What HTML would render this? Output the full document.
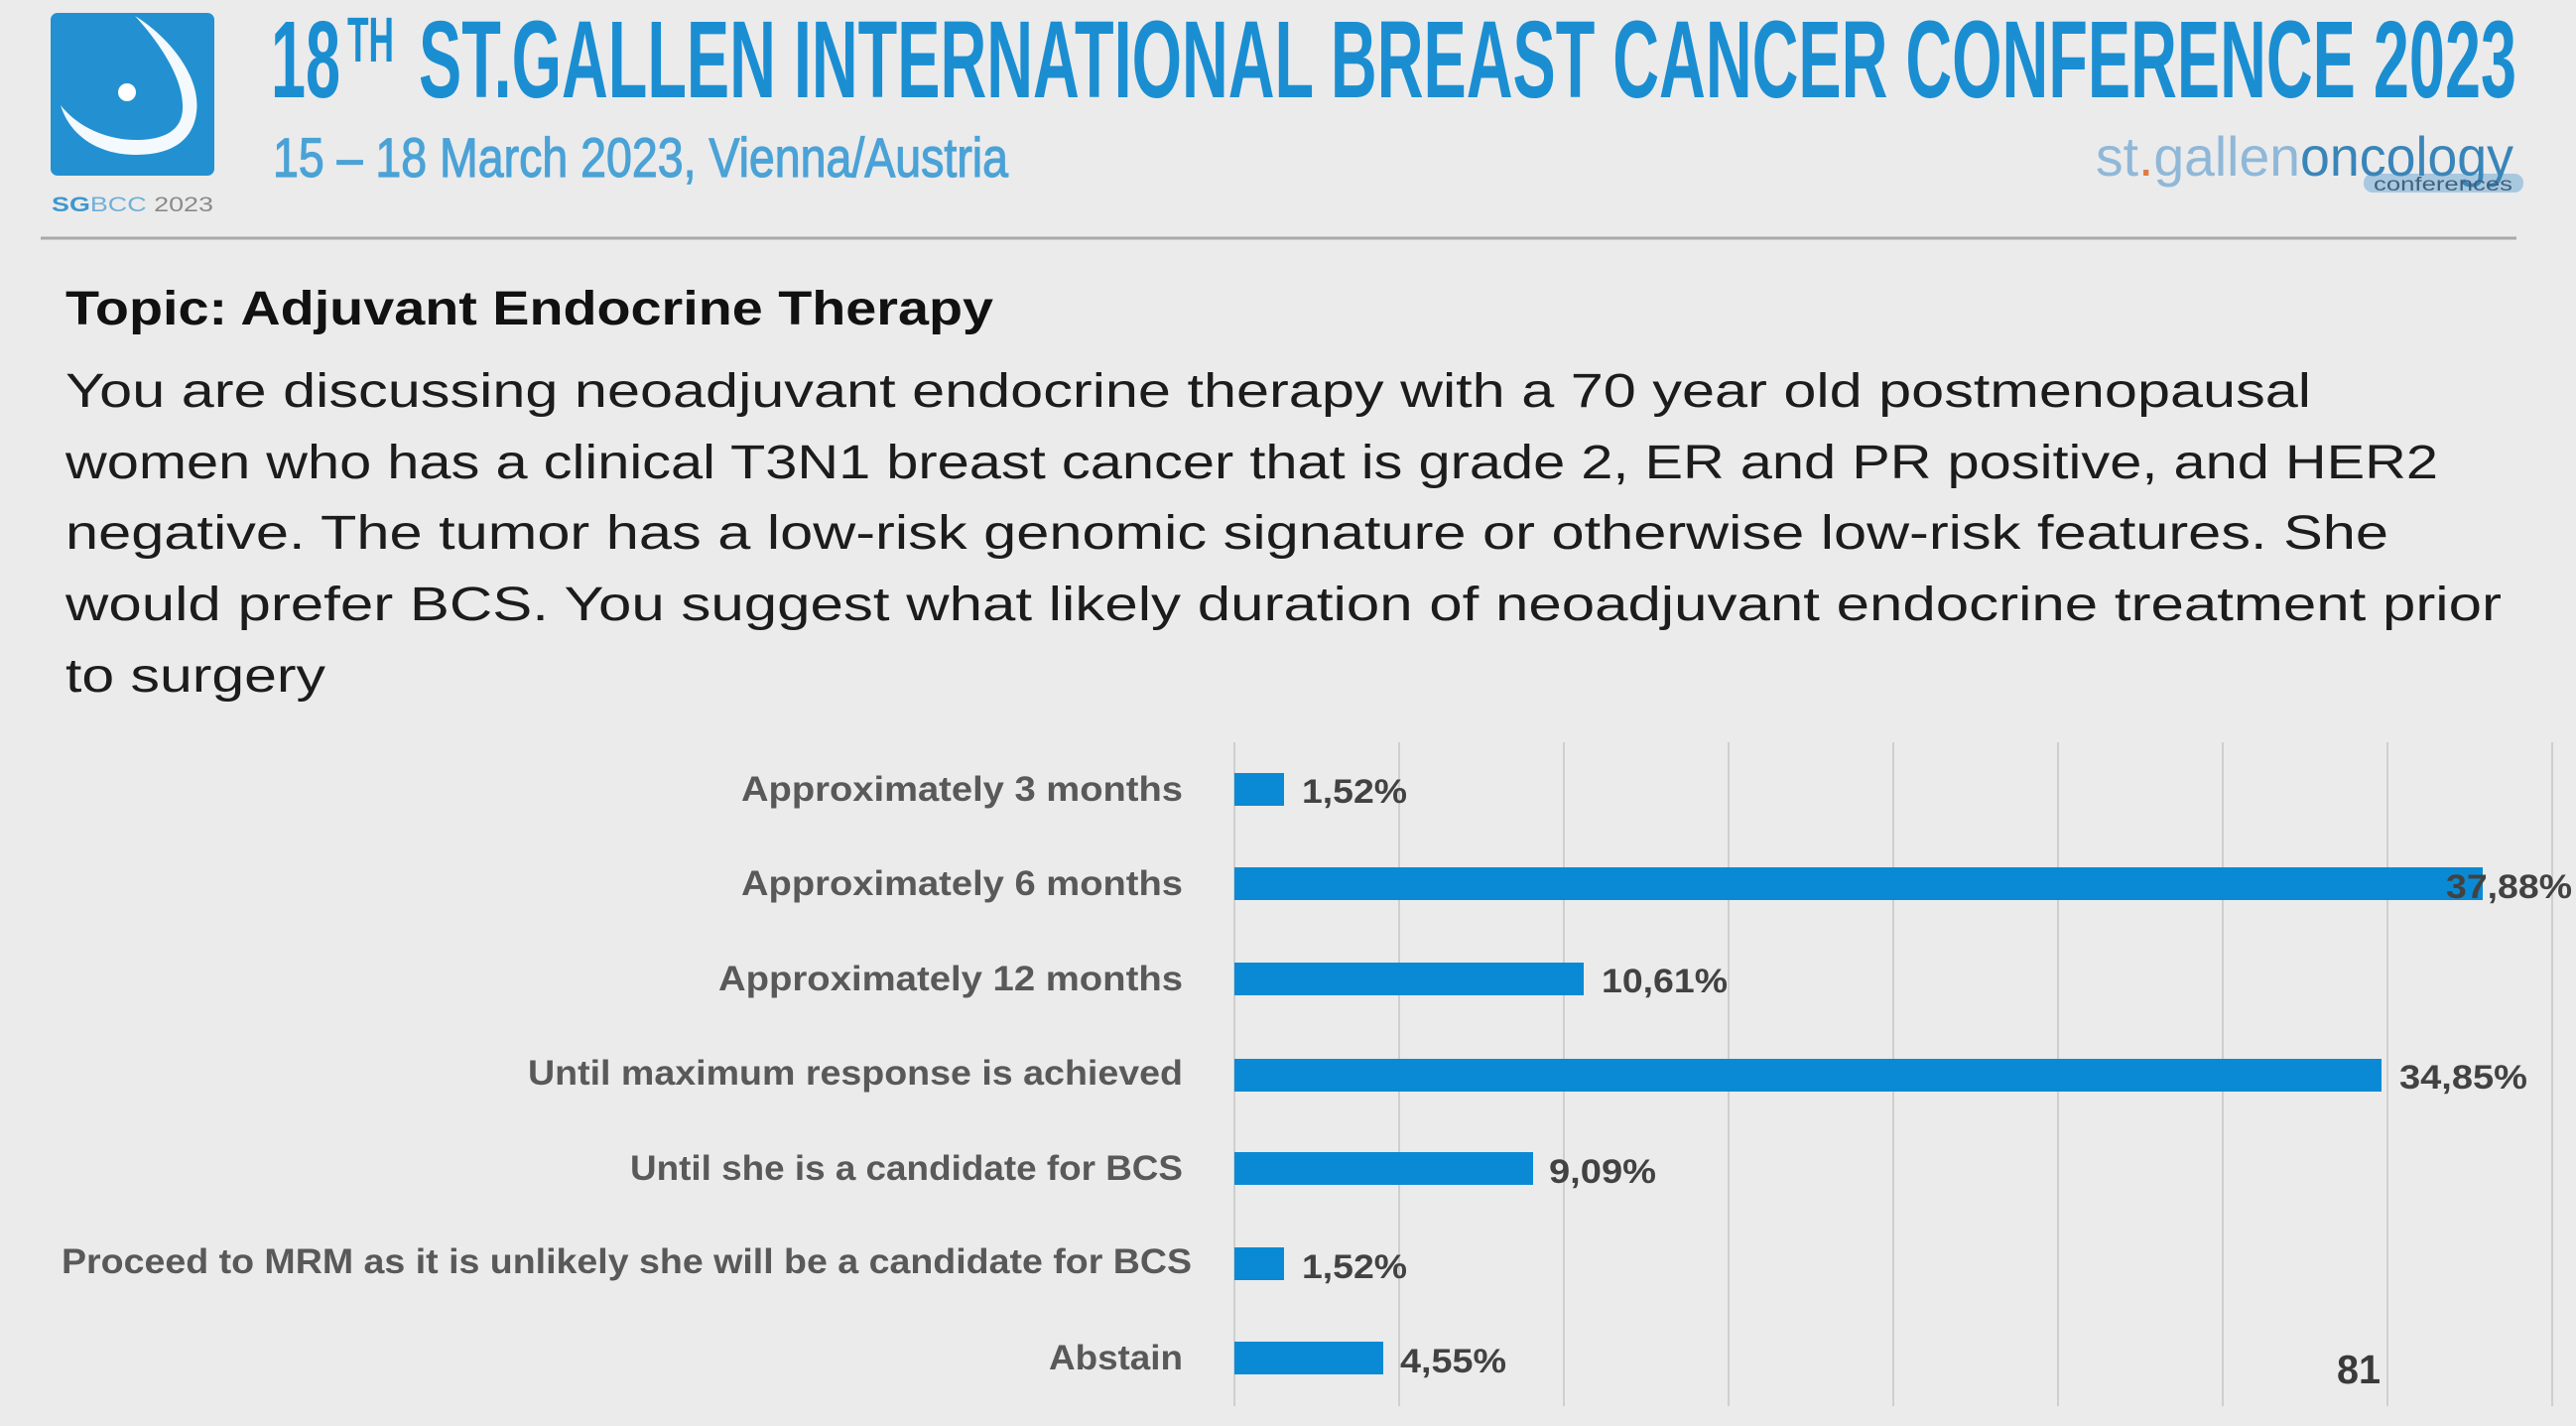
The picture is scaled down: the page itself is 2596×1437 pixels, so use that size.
<!DOCTYPE html>
<html>
<head>
<meta charset="utf-8">
<style>
html,body{margin:0;padding:0;background:#ebebeb;}
svg{display:block;}
text{font-family:"Liberation Sans",Arial,sans-serif;}
</style>
</head>
<body>
<svg width="2596" height="1437" viewBox="0 0 2596 1437" xmlns="http://www.w3.org/2000/svg">
<rect x="0" y="0" width="2596" height="1437" fill="#ebebeb"/>

<!-- Logo -->
<rect x="51" y="13" width="165" height="164" rx="7" fill="#2391d1"/>
<path d="M136,16 C167,35 203,75 198,113 C194,147 165,156 137,156 C104,156 72,141 61,106 C80,130 110,141 137,141 C163,141 183,133 184,110 C186,80 160,42 136,16 Z" fill="#ffffff" opacity="0.95"/>
<circle cx="128" cy="93" r="9" fill="#ffffff"/>
<text x="52" y="213" font-size="21" textLength="163" lengthAdjust="spacingAndGlyphs"><tspan font-weight="bold" fill="#3d97cf">SG</tspan><tspan fill="#6fb0da">BCC</tspan><tspan fill="#8a8a8a"> 2023</tspan></text>

<!-- Header title -->
<text x="273" y="98" font-size="110" font-weight="bold" fill="#1b8ed2" textLength="70" lengthAdjust="spacingAndGlyphs">18</text>
<text x="350" y="62" font-size="64" font-weight="bold" fill="#1b8ed2" textLength="47" lengthAdjust="spacingAndGlyphs">TH</text>
<text x="422" y="98" font-size="110" font-weight="bold" fill="#1b8ed2" textLength="2114" lengthAdjust="spacingAndGlyphs">ST.GALLEN INTERNATIONAL BREAST CANCER CONFERENCE 2023</text>
<text x="275" y="178" font-size="56" fill="#4aa2d6" stroke="#4aa2d6" stroke-width="1.2" textLength="741" lengthAdjust="spacingAndGlyphs">15 – 18 March 2023, Vienna/Austria</text>

<!-- st.gallen oncology logo -->
<rect x="2382" y="175" width="161" height="19" rx="9" fill="#a8c8e0"/>
<text x="2112" y="177" font-size="56" fill="#8fb8d8" textLength="206" lengthAdjust="spacingAndGlyphs">st<tspan fill="#e07a40">.</tspan>gallen</text>
<text x="2318" y="177" font-size="56" fill="#3a85b8" textLength="215" lengthAdjust="spacingAndGlyphs">oncology</text>
<text x="2392" y="192" font-size="19" fill="#40607e" textLength="140" lengthAdjust="spacingAndGlyphs">conferences</text>

<!-- Separator -->
<line x1="41" y1="240" x2="2536" y2="240" stroke="#a9a9a9" stroke-width="3"/>

<!-- Topic -->
<text x="66" y="327" font-size="48" font-weight="bold" fill="#111111" textLength="935" lengthAdjust="spacingAndGlyphs">Topic: Adjuvant Endocrine Therapy</text>
<g font-size="48" fill="#1c1c1c">
<text x="66" y="410" textLength="2263" lengthAdjust="spacingAndGlyphs">You are discussing neoadjuvant endocrine therapy with a 70 year old postmenopausal</text>
<text x="66" y="482" textLength="2391" lengthAdjust="spacingAndGlyphs">women who has a clinical T3N1 breast cancer that is grade 2, ER and PR positive, and HER2</text>
<text x="66" y="553" textLength="2341" lengthAdjust="spacingAndGlyphs">negative. The tumor has a low-risk genomic signature or otherwise low-risk features. She</text>
<text x="66" y="625" textLength="2455" lengthAdjust="spacingAndGlyphs">would prefer BCS. You suggest what likely duration of neoadjuvant endocrine treatment prior</text>
<text x="66" y="697" textLength="262" lengthAdjust="spacingAndGlyphs">to surgery</text>
</g>

<!-- Gridlines -->
<g stroke="#cfcfcf" stroke-width="2">
<line x1="1244" y1="748" x2="1244" y2="1417"/>
<line x1="1410" y1="748" x2="1410" y2="1417"/>
<line x1="1576" y1="748" x2="1576" y2="1417"/>
<line x1="1742" y1="748" x2="1742" y2="1417"/>
<line x1="1908" y1="748" x2="1908" y2="1417"/>
<line x1="2074" y1="748" x2="2074" y2="1417"/>
<line x1="2240" y1="748" x2="2240" y2="1417"/>
<line x1="2406" y1="748" x2="2406" y2="1417"/>
<line x1="2572" y1="748" x2="2572" y2="1417"/>
</g>

<!-- Bars -->
<g fill="#0a8ad4">
<rect x="1244" y="779" width="50" height="33"/>
<rect x="1244" y="874" width="1258" height="33"/>
<rect x="1244" y="970" width="352" height="33"/>
<rect x="1244" y="1067" width="1156" height="33"/>
<rect x="1244" y="1161" width="301" height="33"/>
<rect x="1244" y="1257" width="50" height="33"/>
<rect x="1244" y="1352" width="150" height="33"/>
</g>

<!-- Category labels -->
<g font-size="35" font-weight="bold" fill="#595959">
<text x="747" y="807" textLength="445" lengthAdjust="spacingAndGlyphs">Approximately 3 months</text>
<text x="747" y="902" textLength="445" lengthAdjust="spacingAndGlyphs">Approximately 6 months</text>
<text x="724" y="998" textLength="468" lengthAdjust="spacingAndGlyphs">Approximately 12 months</text>
<text x="532" y="1093" textLength="660" lengthAdjust="spacingAndGlyphs">Until maximum response is achieved</text>
<text x="635" y="1189" textLength="557" lengthAdjust="spacingAndGlyphs">Until she is a candidate for BCS</text>
<text x="62" y="1283" textLength="1139" lengthAdjust="spacingAndGlyphs">Proceed to MRM as it is unlikely she will be a candidate for BCS</text>
<text x="1057" y="1380" textLength="135" lengthAdjust="spacingAndGlyphs">Abstain</text>
</g>

<!-- Value labels -->
<g font-size="34" font-weight="bold" fill="#424242">
<text x="1312" y="809" textLength="106" lengthAdjust="spacingAndGlyphs">1,52%</text>
<text x="2465" y="905" textLength="127" lengthAdjust="spacingAndGlyphs">37,88%</text>
<text x="1614" y="1000" textLength="127" lengthAdjust="spacingAndGlyphs">10,61%</text>
<text x="2418" y="1097" textLength="129" lengthAdjust="spacingAndGlyphs">34,85%</text>
<text x="1561" y="1192" textLength="108" lengthAdjust="spacingAndGlyphs">9,09%</text>
<text x="1312" y="1288" textLength="106" lengthAdjust="spacingAndGlyphs">1,52%</text>
<text x="1411" y="1383" textLength="107" lengthAdjust="spacingAndGlyphs">4,55%</text>
</g>

<!-- Page number -->
<text x="2355" y="1394" font-size="41" font-weight="bold" fill="#3a3a3a" textLength="44" lengthAdjust="spacingAndGlyphs">81</text>
</svg>
</body>
</html>
